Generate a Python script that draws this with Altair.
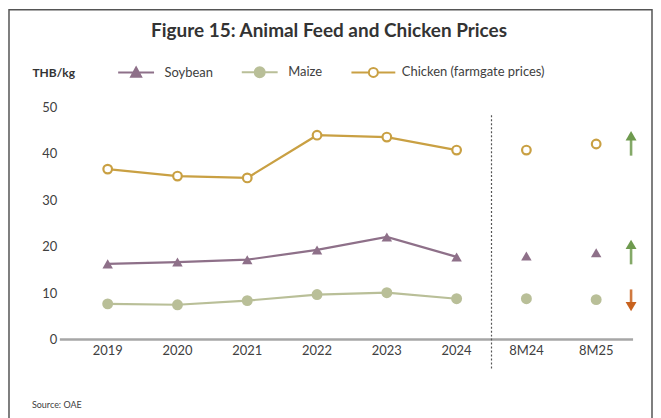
import altair as alt
import pandas as pd

categories = ["2019", "2020", "2021", "2022", "2023", "2024", "8M24", "8M25"]
annual = ["2019", "2020", "2021", "2022", "2023", "2024"]
series = ["Soybean", "Maize", "Chicken (farmgate prices)"]
soybean = [16.3, 16.7, 17.2, 19.3, 22.1, 17.8, 18.0, 18.7]
maize = [7.7, 7.5, 8.4, 9.7, 10.1, 8.8, 8.8, 8.6]
chicken = [36.7, 35.2, 34.8, 44.0, 43.6, 40.8, 40.8, 42.1]
colors = ["#8E7089", "#B9BF98", "#C9A043"]
arrow_dir = ["up", "down", "up"]  # Soybean, Maize, Chicken (8M25 vs 8M24)
arrow_colors = {"up": "#6E9A4E", "down": "#C8621E"}

FONT = "Lato"

rows = []
for name, vals in zip(series, [soybean, maize, chicken]):
    for c, v in zip(categories, vals):
        rows.append({"cat": c, "series": name, "value": v, "annual": c in annual})
df = pd.DataFrame(rows)

arows = []
for name, vals, d in zip(series, [soybean, maize, chicken], arrow_dir):
    v = vals[-1]
    if d == "up":
        tail, tip = v - 2.5, v + 2.9
        head = tip - 1.1
        shape = "triangle-up"
    else:
        tail, tip = v + 2.2, v - 2.6
        head = tip + 1.1
        shape = "triangle-down"
    arows.append({"cat": categories[-1], "series": name, "tail": tail, "value": head,
                  "shape": shape, "col": arrow_colors[d]})
adf = pd.DataFrame(arows)

W, H = 560, 233
xscale = alt.Scale(domain=categories, type="band", paddingInner=0, paddingOuter=0)
yscale = alt.Scale(domain=[0, 50], nice=False)

x_enc = alt.X("cat:N", scale=xscale, sort=categories,
              axis=alt.Axis(title=None, labelAngle=0, labelAlign="center", bandPosition=0.5,
                            domain=False, ticks=False,
                            labelPadding=11, labelFontSize=13, labelColor="#404040",
                            labelFont=FONT))
y_enc = alt.Y("value:Q", scale=yscale,
              axis=alt.Axis(title="THB/kg", titleAngle=0, titleX=-41, titleY=-35,
                            titleAlign="left", titleBaseline="middle",
                            titleFontSize=12, titleFontWeight="bold", titleColor="#333333",
                            titleFont=FONT,
                            values=[0, 10, 20, 30, 40, 50], grid=False, domain=False,
                            ticks=False, labelPadding=16, labelFontSize=13,
                            labelColor="#404040", labelFont=FONT))

base = alt.Chart(df)
one = "datum.cat == '2019' && datum.series == 'Soybean'"

frame = base.mark_rect(fill="transparent", stroke="#555555", strokeWidth=1.5).encode(
    x=alt.value(-64), x2=alt.value(W + 21), y=alt.value(-98), y2=alt.value(H + 90)
).transform_filter(one)

baseline = base.transform_filter(one).transform_calculate(value="0").mark_rule(
    color="#A6A6A6", strokeWidth=2.5).encode(
    y=y_enc, x=alt.value(-13), x2=alt.value(W + 2)
)

divider = base.mark_rule(color="#555555", strokeWidth=1.2, strokeDash=[2, 2]).encode(
    x=alt.X("cat:N", scale=xscale, bandPosition=0),
    y=alt.value(8), y2=alt.value(H + 30)
).transform_filter("datum.cat == '8M24' && datum.series == 'Soybean'")

lines = base.mark_line(strokeWidth=2.2).encode(
    x=x_enc, y=y_enc,
    color=alt.Color("series:N", scale=alt.Scale(domain=series, range=colors), legend=None),
    detail="series:N"
).transform_filter("datum.annual")

soy_pts = base.transform_filter("datum.series == 'Soybean'").mark_point(
    shape="triangle-up", filled=True, size=110, color=colors[0], opacity=1
).encode(x=x_enc, y=y_enc)
maize_pts = base.transform_filter("datum.series == 'Maize'").mark_point(
    shape="circle", filled=True, size=120, color=colors[1], opacity=1
).encode(x=x_enc, y=y_enc)
chick_pts = base.transform_filter("datum.series == 'Chicken (farmgate prices)'").mark_point(
    shape="circle", filled=False, fill="white", stroke=colors[2], strokeWidth=2.2,
    size=75, opacity=1
).encode(x=x_enc, y=y_enc)

# legend layer (no visible marks; legend entries come from explicit domains)
paths = [
    "M-3.6,0H3.6M0,-1L1,0.85L-1,0.85Z",
    "M-3.6,0H3.6M1,0A1,1 0 1,1 -1,0A1,1 0 1,1 1,0Z",
    "M-4.4,0H-0.9M0.9,0H4.4M0.9,0A0.9,0.9 0 1,1 -0.9,0A0.9,0.9 0 1,1 0.9,0Z",
]
legend = alt.Legend(title=None, orient="none", legendX=57, legendY=-42, direction="horizontal",
                    symbolSize=100, symbolStrokeWidth=2, labelFontSize=13,
                    labelColor="#404040", labelFont=FONT, labelOffset=22,
                    columnPadding=24, symbolOpacity=1)
legend_layer = base.mark_point(filled=False, strokeWidth=2).encode(
    x=x_enc, y=y_enc,
    stroke=alt.Stroke("series:N", scale=alt.Scale(domain=series, range=colors), legend=legend),
    fill=alt.Fill("series:N", scale=alt.Scale(domain=series, range=[colors[0], colors[1], "#FFFFFF"]),
                  legend=legend),
    shape=alt.Shape("series:N", scale=alt.Scale(domain=series, range=paths), legend=legend),
).transform_filter("false")

stems = alt.Chart(adf).mark_rule(strokeWidth=2.6, xOffset=35, opacity=0.85).encode(
    x=alt.X("cat:N", scale=xscale),
    y=alt.Y("tail:Q", scale=yscale),
    y2="value:Q",
    color=alt.Color("col:N", scale=None),
)
heads = alt.Chart(adf).mark_point(filled=True, size=120, xOffset=35, opacity=1).encode(
    x=alt.X("cat:N", scale=xscale),
    y=y_enc,
    shape=alt.Shape("shape:N", scale=None),
    color=alt.Color("col:N", scale=None),
)

source = base.mark_text(align="left", baseline="middle", fontSize=9,
                        color="#404040", font=FONT).encode(
    x=alt.value(-41), y=alt.value(H + 66), text=alt.value("Source: OAE")
).transform_filter(one)

chart = alt.layer(
    frame, baseline, divider, lines, soy_pts, maize_pts, chick_pts, legend_layer,
    stems, heads, source
).properties(
    width=W, height=H,
    title=alt.TitleParams("Figure 15: Animal Feed and Chicken Prices", font=FONT, fontSize=19,
                          fontWeight="bold", color="#333333", anchor="middle", frame="group",
                          dx=-23, offset=-41, baseline="middle"),
    autosize=alt.AutoSizeParams(type="none"),
    padding={"left": 65, "top": 99, "right": 22, "bottom": 80},
).configure_view(stroke=None).resolve_scale(color="independent")

chart.save("out.html", embed_options={"renderer": "svg", "actions": False})
